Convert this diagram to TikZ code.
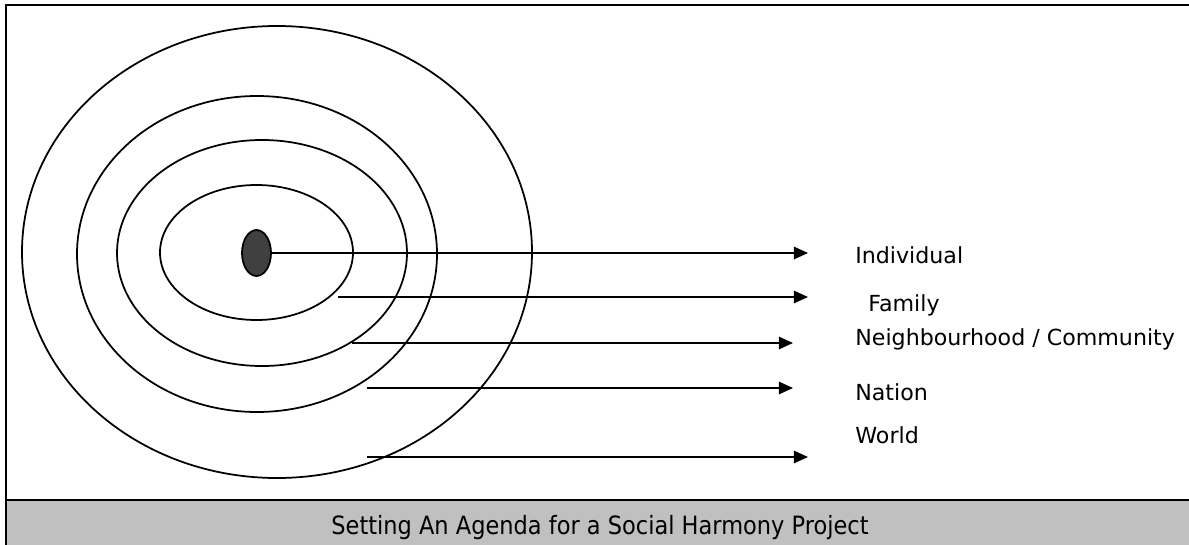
\documentclass[tikz,border=0pt]{standalone}
\usepackage{fontspec}
\usepackage{graphicx}
\setmainfont{DejaVu Sans}
\usetikzlibrary{arrows.meta,shapes.geometric}
\begin{document}
\begin{tikzpicture}[x=0.02cm,y=-0.02cm]%
  \useasboundingbox (0,0) rectangle (1189,544);
  \tikzset{ring/.style={draw,line width=1pt},
    pointer/.style={line width=1pt,-{Triangle[length=8pt,width=7pt]}},
    level/.style={anchor=base west,inner sep=0pt,font=\fontsize{12.6}{15}\selectfont}}
  % Frame and caption bar.
  \draw[line width=1.1pt] (6,5) rectangle (1193,548);
  \draw[line width=1.1pt,fill={rgb,255:red,192;green,192;blue,192}] (6,500) rectangle (1193,548);
  \node[anchor=base,inner sep=0pt,font=\fontsize{12.8}{15}\selectfont] (caption) at (600,534)
    {\scalebox{1}[1.12]{Setting An Agenda for a Social Harmony Project}};

  % Rings, outermost first.
  \draw[ring] (277,252) ellipse [x radius=255, y radius=226];
  \draw[ring] (257,254) ellipse [x radius=180, y radius=158];
  \draw[ring] (262,253) ellipse [x radius=145, y radius=113];
  \draw[ring] (256.5,252.5) ellipse [x radius=96.5, y radius=67.5];
  \node[ellipse,draw,line width=1pt,fill={rgb,255:red,64;green,64;blue,64},
    minimum width=0.58cm,minimum height=0.92cm,inner sep=0pt] (self) at (256.5,253) {};

  % Arrows out of the rings.
  \coordinate (tipind) at (808,253);
  \draw[pointer] (self.east) -- (tipind);
  \foreach \y/\xa/\xb [count=\i] in {297/338/808, 343/352/793, 388/367/793, 457/367/808}
  {
    \coordinate (start\i) at (\xa,\y);
    \coordinate (tip\i) at (\xb,\y);
    \draw[pointer] (start\i) -- (tip\i);
  }

  % Labels.
  \node[level] (individual) at (855,263) {Individual};
  \node[level] (family) at (868,311) {Family};
  \node[level] (community) at (855,345) {Neighbourhood / Community};
  \node[level] (nation) at (855,400) {Nation};
  \node[level] (world) at (855,443) {World};
\end{tikzpicture}
\end{document}
